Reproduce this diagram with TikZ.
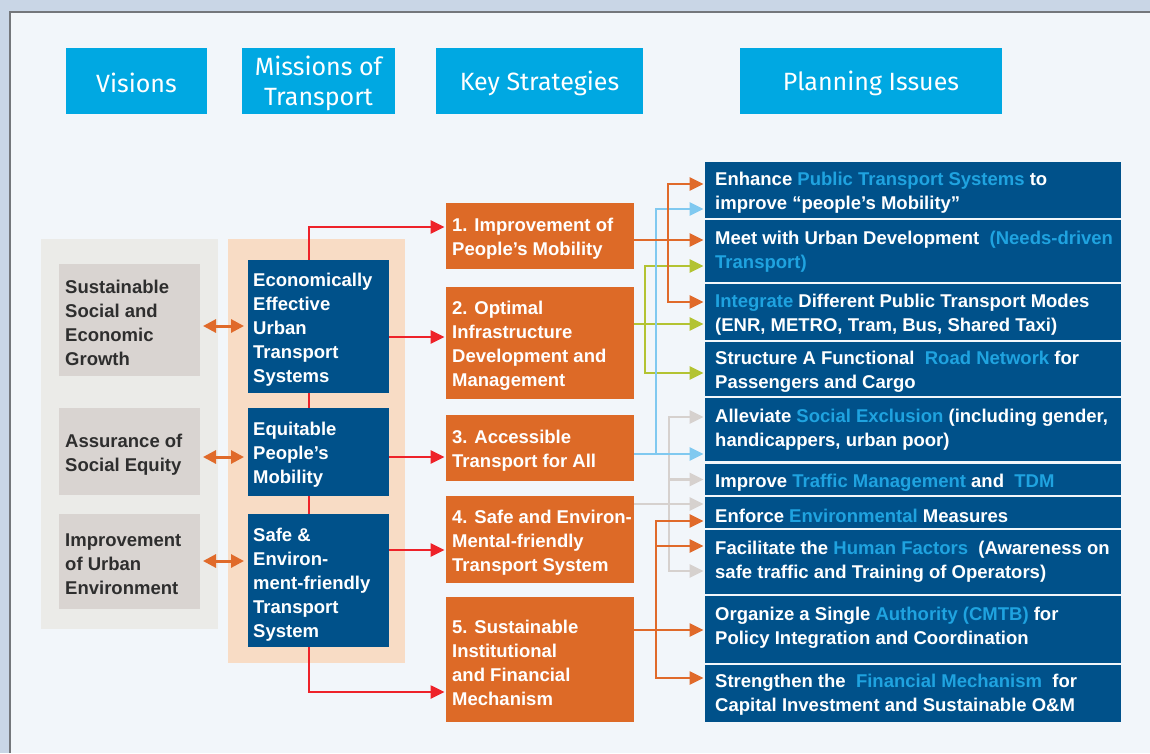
\documentclass[tikz,border=0pt]{standalone}
\usepackage{fontspec}
\setmainfont{Liberation Sans}
\newfontfamily\headfont{Fira Sans}
\usetikzlibrary{arrows.meta}

\definecolor{pagebg}{HTML}{C9D6E6}
\definecolor{panelbg}{HTML}{F2F6FA}
\definecolor{panelrule}{HTML}{74777B}
\definecolor{hdrcyan}{HTML}{00A8E2}
\definecolor{visionbg}{HTML}{EBEBE8}
\definecolor{visionbox}{HTML}{D9D4D1}
\definecolor{missionbg}{HTML}{F8DCC5}
\definecolor{navy}{HTML}{00518A}
\definecolor{strat}{HTML}{DD6A27}
\definecolor{redline}{HTML}{EE2229}
\definecolor{orline}{HTML}{E06A2A}
\definecolor{skyline}{HTML}{80C9F0}
\definecolor{limeline}{HTML}{B3C332}
\definecolor{greyline}{HTML}{D6D1CE}
\definecolor{hilite}{HTML}{1FA3E0}
\definecolor{darktext}{HTML}{2E2E2E}

\newcommand\hlt[1]{\textcolor{hilite}{#1}}

\tikzset{
  blk/.style={anchor=north west, inner sep=0pt, outer sep=0pt},
  hdr/.style={blk, fill=hdrcyan},
  hdrtxt/.style={inner sep=0pt, text=white, align=center, yshift=-2pt,
    font=\headfont\fontsize{25}{30}\selectfont},
  vbox/.style={blk, fill=visionbox},
  mbox/.style={blk, fill=navy},
  sbox/.style={blk, fill=strat},
  pbox/.style={blk, fill=navy},
  txt/.style={anchor=west, inner sep=0pt, align=left, text=white, yshift=-3pt,
    font=\bfseries\fontsize{18.5}{24}\selectfont},
  vtxt/.style={txt, text=darktext},
  tip/.style={-{Triangle[length=14pt,width=13pt]}},
  conn/.style={line width=2.6pt, tip, shorten >=1.5pt},
  redc/.style={conn, draw=redline},
  redln/.style={line width=2.6pt, draw=redline},
  orc/.style={conn, draw=orline},
  skc/.style={conn, draw=skyline},
  lmc/.style={conn, draw=limeline},
  grc/.style={conn, draw=greyline},
  dbl/.style={line width=3pt, draw=orline,
    {Triangle[length=13pt,width=13pt]}-{Triangle[length=13pt,width=13pt]},
    shorten <=3pt, shorten >=4pt},
}

\begin{document}
\begin{tikzpicture}[x=1pt, y=-1pt]
\useasboundingbox (0,0) rectangle (1150,753);

% page and panel
\fill[pagebg] (0,0) rectangle (1150,753);
\fill[panelbg] (10,12) rectangle (1150,753);
\draw[panelrule, line width=2pt] (10,753) -- (10,12) -- (1150,12);

% column headers
\node[hdr, minimum width=141pt, minimum height=66pt] (hv) at (66,48) {};
\node[hdr, minimum width=153pt, minimum height=66pt] (hm) at (242,48) {};
\node[hdr, minimum width=207pt, minimum height=66pt] (hk) at (436,48) {};
\node[hdr, minimum width=262pt, minimum height=66pt] (hp) at (740,48) {};
\node[hdrtxt] (hvt) at (hv) {Visions};
\node[hdrtxt] (hmt) at (hm) {Missions of\\Transport};
\node[hdrtxt] (hkt) at (hk) {Key Strategies};
\node[hdrtxt] (hpt) at (hp) {Planning Issues};

% column backgrounds
\node[blk, fill=visionbg, minimum width=177pt, minimum height=390pt] (vcol) at (41,239) {};
\node[blk, fill=missionbg, minimum width=177pt, minimum height=424pt] (mcol) at (228,239) {};

% visions
\node[vbox, minimum width=141pt, minimum height=112pt] (v1) at (59,264) {};
\node[vbox, minimum width=141pt, minimum height=87pt] (v2) at (59,408) {};
\node[vbox, minimum width=141pt, minimum height=95pt] (v3) at (59,514) {};
\node[vtxt] (v1t) at ([xshift=6pt]v1.west) {Sustainable\\Social and\\Economic\\Growth};
\node[vtxt] (v2t) at ([xshift=6pt]v2.west) {Assurance of\\Social Equity};
\node[vtxt] (v3t) at ([xshift=6pt]v3.west) {Improvement\\of Urban\\Environment};

% missions
\node[mbox, minimum width=141pt, minimum height=133pt] (m1) at (248,260) {};
\node[mbox, minimum width=141pt, minimum height=88pt] (m2) at (248,408) {};
\node[mbox, minimum width=141pt, minimum height=133pt] (m3) at (248,514) {};
\node[txt] (m1t) at ([xshift=5pt]m1.west) {Economically\\Effective\\Urban\\Transport\\Systems};
\node[txt] (m2t) at ([xshift=5pt]m2.west) {Equitable\\People’s\\Mobility};
\node[txt] (m3t) at ([xshift=5pt,yshift=-1pt]m3.west) {Safe \&\\Environ-\\ment-friendly\\Transport\\System};

% key strategies
\node[sbox, minimum width=188pt, minimum height=66pt] (s1) at (446,203) {};
\node[sbox, minimum width=188pt, minimum height=112pt] (s2) at (446,287) {};
\node[sbox, minimum width=188pt, minimum height=66pt] (s3) at (446,415) {};
\node[sbox, minimum width=188pt, minimum height=87pt] (s4) at (446,496) {};
\node[sbox, minimum width=188pt, minimum height=125pt] (s5) at (446,597) {};
\node[txt] (s1t) at ([xshift=6pt]s1.west) {1. Improvement of\\People’s Mobility};
\node[txt] (s2t) at ([xshift=6pt]s2.west) {2. Optimal\\Infrastructure\\Development and\\Management};
\node[txt] (s3t) at ([xshift=6pt]s3.west) {3. Accessible\\Transport for All};
\node[txt] (s4t) at ([xshift=6pt]s4.west) {4. Safe and Environ-\\Mental-friendly\\Transport System};
\node[txt] (s5t) at ([xshift=6pt]s5.west) {5. Sustainable\\Institutional\\and Financial\\Mechanism};

% planning issues
\node[pbox, minimum width=416pt, minimum height=56pt] (p1) at (705,162) {};
\node[pbox, minimum width=416pt, minimum height=62pt] (p2) at (705,220) {};
\node[pbox, minimum width=416pt, minimum height=56pt] (p3) at (705,284) {};
\node[pbox, minimum width=416pt, minimum height=54pt] (p4) at (705,342) {};
\node[pbox, minimum width=416pt, minimum height=63pt] (p5) at (705,398) {};
\node[pbox, minimum width=416pt, minimum height=31pt] (p6) at (705,464) {};
\node[pbox, minimum width=416pt, minimum height=31pt] (p7) at (705,497) {};
\node[pbox, minimum width=416pt, minimum height=64pt] (p8) at (705,530) {};
\node[pbox, minimum width=416pt, minimum height=67pt] (p9) at (705,596) {};
\node[pbox, minimum width=416pt, minimum height=57pt] (p10) at (705,665) {};
\node[txt] (p1t) at ([xshift=10pt]p1.west) {Enhance \hlt{Public Transport Systems} to\\improve “people’s Mobility”};
\node[txt] (p2t) at ([xshift=10pt,yshift=2.5pt]p2.west) {Meet with Urban Development \ \hlt{(Needs-driven}\\\hlt{Transport)}};
\node[txt] (p3t) at ([xshift=10pt]p3.west) {\hlt{Integrate} Different Public Transport Modes\\(ENR, METRO, Tram, Bus, Shared Taxi)};
\node[txt] (p4t) at ([xshift=10pt]p4.west) {Structure A Functional \ \hlt{Road Network} for\\Passengers and Cargo};
\node[txt] (p5t) at ([xshift=10pt,yshift=2.5pt]p5.west) {Alleviate \hlt{Social Exclusion} (including gender,\\handicappers, urban poor)};
\node[txt] (p6t) at ([xshift=10pt]p6.west) {Improve \hlt{Traffic Management} and \ \hlt{TDM}};
\node[txt] (p7t) at ([xshift=10pt]p7.west) {Enforce \hlt{Environmental} Measures};
\node[txt] (p8t) at ([xshift=10pt,yshift=3pt]p8.west) {Facilitate the \hlt{Human Factors} \ (Awareness on\\safe traffic and Training of Operators)};
\node[txt] (p9t) at ([xshift=10pt,yshift=4.5pt]p9.west) {Organize a Single \hlt{Authority (CMTB)} for\\Policy Integration and Coordination};
\node[txt] (p10t) at ([xshift=10pt,yshift=1.5pt]p10.west) {Strengthen the \ \hlt{Financial Mechanism} \ for\\Capital Investment and Sustainable O\&M};

% visions <-> missions
\coordinate (d1) at (0,326);
\coordinate (d2) at (0,457);
\coordinate (d3) at (0,561);
\draw[dbl] (v1.east |- d1) -- (m1.west |- d1);
\draw[dbl] (v2.east |- d2) -- (m2.west |- d2);
\draw[dbl] (v3.east |- d3) -- (m3.west |- d3);

% missions -> key strategies
\draw[redln] ([xshift=-9.5pt]m1.south) -- ([xshift=-9.5pt]m2.north);
\draw[redln] ([xshift=-9.5pt]m2.south) -- ([xshift=-9.5pt]m3.north);
\draw[redc] ([xshift=-9.5pt]m1.north) |- ([yshift=9pt]s1.west);
\draw[redc] ([xshift=-9.5pt]m3.south) |- ([yshift=-32.5pt]s5.west);
\coordinate (r1) at ([yshift=-10.5pt]m1.east);
\coordinate (r2) at ([yshift=-5pt]m2.east);
\coordinate (r3) at ([yshift=30.5pt]m3.east);
\draw[redc] (r1) -- (r1 -| s2.west);
\draw[redc] (r2) -- (r2 -| s3.west);
\draw[redc] (r3) -- (r3 -| s4.west);

% key strategies -> planning issues
\coordinate (gy) at (669,504);
\draw[grc] (s4.east |- gy) -- (p7.west |- gy);
\draw[grc] (gy) |- ([yshift=12.5pt]p5.west);
\draw[grc] (gy) |- ([yshift=-9pt]p8.west);
\draw[grc] (gy |- p6.west) -- (p6.west);

\coordinate (lm) at (645,324);
\draw[lmc] (s2.east |- lm) -- (p3.west |- lm);
\draw[lmc] (lm) |- ([yshift=-15pt]p2.west);
\draw[lmc] (lm) |- ([yshift=-4pt]p4.west);

\coordinate (sk) at (656,454);
\draw[skc] (s3.east |- sk) -- (p5.west |- sk);
\draw[skc] (sk) |- ([yshift=-19pt]p1.west);

\coordinate (oa) at (668,240);
\draw[orc] (s1.east |- oa) -- (p2.west |- oa);
\draw[orc] (oa) |- ([yshift=6pt]p1.west);
\draw[orc] (oa) |- ([yshift=10pt]p3.west);

\coordinate (ob) at (656,630);
\draw[orc] (s5.east |- ob) -- (p9.west |- ob);
\draw[orc] (ob) |- ([yshift=-8.5pt]p7.west);
\draw[orc] (ob) |- ([yshift=16pt]p8.west);
\draw[orc] (ob) |- ([yshift=15.5pt]p10.west);
\end{tikzpicture}
\end{document}
